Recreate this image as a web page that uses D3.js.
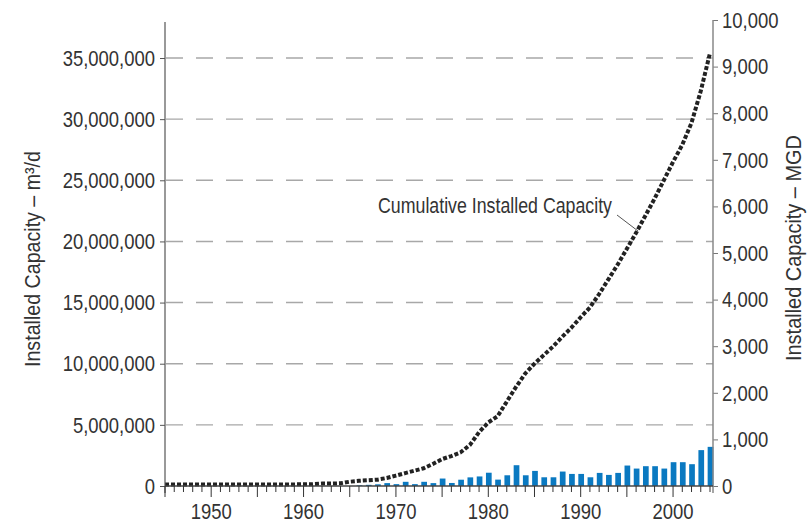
<!DOCTYPE html>
<html><head><meta charset="utf-8">
<script src="https://cdn.jsdelivr.net/npm/d3@7"></script>
<style>
body{margin:0;background:#fff;}
svg text{font-family:"Liberation Sans",Arial,sans-serif;fill:#333;}
</style></head><body>
<svg id="c" width="808" height="526"></svg>
<script>
// ---- data ----
const barYears = [1966,1967,1968,1969,1970,1971,1972,1973,1974,1975,1976,1977,1978,1979,1980,1981,1982,1983,1984,1985,1986,1987,1988,1989,1990,1991,1992,1993,1994,1995,1996,1997,1998,1999,2000,2001,2002,2003,2004];
const annualMGD = [15,25,36,62,40,90,40,90,62,160,65,135,185,205,285,137,230,446,230,324,187,187,310,259,259,187,281,238,281,439,374,425,425,374,511,511,468,770,840];
const cumYears = [1945,1946,1947,1948,1949,1950,1951,1952,1953,1954,1955,1956,1957,1958,1959,1960,1961,1962,1963,1964,1965,1966,1967,1968,1969,1970,1971,1972,1973,1974,1975,1976,1977,1978,1979,1980,1981,1982,1983,1984,1985,1986,1987,1988,1989,1990,1991,1992,1993,1994,1995,1996,1997,1998,1999,2000,2001,2002,2003,2004];
const cumM3d = [0.12,0.12,0.12,0.12,0.12,0.12,0.12,0.12,0.12,0.12,0.12,0.12,0.12,0.12,0.13,0.14,0.15,0.2,0.2,0.22,0.35,0.42,0.47,0.52,0.65,0.85,1.05,1.25,1.45,1.8,2.2,2.45,2.75,3.35,4.4,5.2,5.7,6.9,8.1,9.2,10.0,10.7,11.4,12.2,12.95,13.8,14.6,15.7,16.9,18.1,19.4,20.7,22.1,23.5,25.0,26.5,27.9,29.7,32.3,35.4].map(v=>v*1e6);
const leftTicks = [0,5000000,10000000,15000000,20000000,25000000,30000000,35000000];
const rightTicks = [0,1000,2000,3000,4000,5000,6000,7000,8000,9000,10000];
const xLabelYears = [1950,1960,1970,1980,1990,2000];
const leftTitle = "Installed Capacity – m³/d";
const rightTitle = "Installed Capacity – MGD";
const seriesLabel = "Cumulative Installed Capacity";

// ---- layout ----
const svg = d3.select("#c");
const X0 = 165, X1 = 710, XR = 713, Y0 = 486;
const FS = "22.5px", NARROW = 0.82;
const x = d3.scaleLinear().domain([1945,2004]).range([X0,X1]);
const yL = d3.scaleLinear().domain([0,35000000]).range([Y0,58]);
const yR = d3.scaleLinear().domain([0,10000]).range([Y0,20]);

function narrow(sel, len){
  sel.each(function(){
    const w = this.getComputedTextLength();
    d3.select(this).attr("textLength", len || w*NARROW).attr("lengthAdjust","spacingAndGlyphs");
  });
}

// gridlines
svg.append("g").selectAll("line").data(leftTicks.filter(d=>d>0)).join("line")
  .attr("x1",X0+1).attr("x2",XR).attr("y1",d=>yL(d)).attr("y2",d=>yL(d))
  .attr("stroke","#a8a8a8").attr("stroke-width",1.4).attr("stroke-dasharray","17,13");

// bars
const bw = 5.7;
svg.append("g").selectAll("rect").data(barYears.map((y,i)=>({y,v:annualMGD[i]}))).join("rect")
  .attr("x",d=>x(d.y)-bw/2+0.5).attr("width",bw)
  .attr("y",d=>yR(d.v)).attr("height",d=>Y0-yR(d.v))
  .attr("fill","#0a79c1");

// cumulative line
const line = d3.line().x((d,i)=>x(cumYears[i])).y(d=>yL(d));
svg.append("path").datum(cumM3d).attr("d",line).attr("fill","none")
  .attr("stroke","#222").attr("stroke-width",4).attr("stroke-dasharray","4,2");

// left axis
const gL = svg.append("g").attr("transform",`translate(${X0},0)`)
  .call(d3.axisLeft(yL).tickValues(leftTicks).tickSize(5).tickPadding(5).tickFormat(d3.format(",")));
gL.select(".domain").remove();
gL.selectAll("line").attr("stroke","#555");
gL.selectAll("text").style("font-size",FS).attr("fill","#333").call(narrow);
svg.append("line").attr("x1",X0).attr("x2",X0).attr("y1",22).attr("y2",Y0+7).attr("stroke","#555").attr("stroke-width",1.2);

// right axis
const gR = svg.append("g").attr("transform",`translate(${XR},0)`)
  .call(d3.axisRight(yR).tickValues(rightTicks).tickSize(5).tickPadding(4).tickFormat(d3.format(",")));
gR.select(".domain").remove();
gR.selectAll("line").attr("stroke","#777");
gR.selectAll("text").style("font-size",FS).attr("fill","#333").call(narrow);
svg.append("line").attr("x1",XR).attr("x2",XR).attr("y1",20).attr("y2",Y0+7).attr("stroke","#888").attr("stroke-width",1.5);

// bottom axis
svg.append("line").attr("x1",X0).attr("x2",XR).attr("y1",Y0).attr("y2",Y0).attr("stroke","#444").attr("stroke-width",1.3);
svg.append("g").selectAll("line").data(cumYears).join("line")
  .attr("x1",d=>x(d)).attr("x2",d=>x(d)).attr("y1",Y0).attr("y2",d=>Y0+(d%5===0?11:6))
  .attr("stroke","#333").attr("stroke-width",1);
svg.append("g").selectAll("text").data(xLabelYears).join("text")
  .attr("x",d=>x(d)).attr("y",519).attr("text-anchor","middle").style("font-size",FS).text(d=>d).call(narrow);

// titles
svg.append("text").attr("transform","translate(40,259) rotate(-90)").attr("text-anchor","middle")
  .style("font-size",FS).text(leftTitle).call(narrow, 216);
svg.append("text").attr("transform","translate(801,248) rotate(-90)").attr("text-anchor","middle")
  .style("font-size",FS).text(rightTitle).call(narrow, 226);

// annotation
svg.append("text").attr("x",378).attr("y",213).style("font-size",FS).text(seriesLabel).call(narrow, 234);
svg.append("line").attr("x1",617).attr("y1",215).attr("x2",638).attr("y2",231).attr("stroke","#555").attr("stroke-width",1);
</script></body></html>
